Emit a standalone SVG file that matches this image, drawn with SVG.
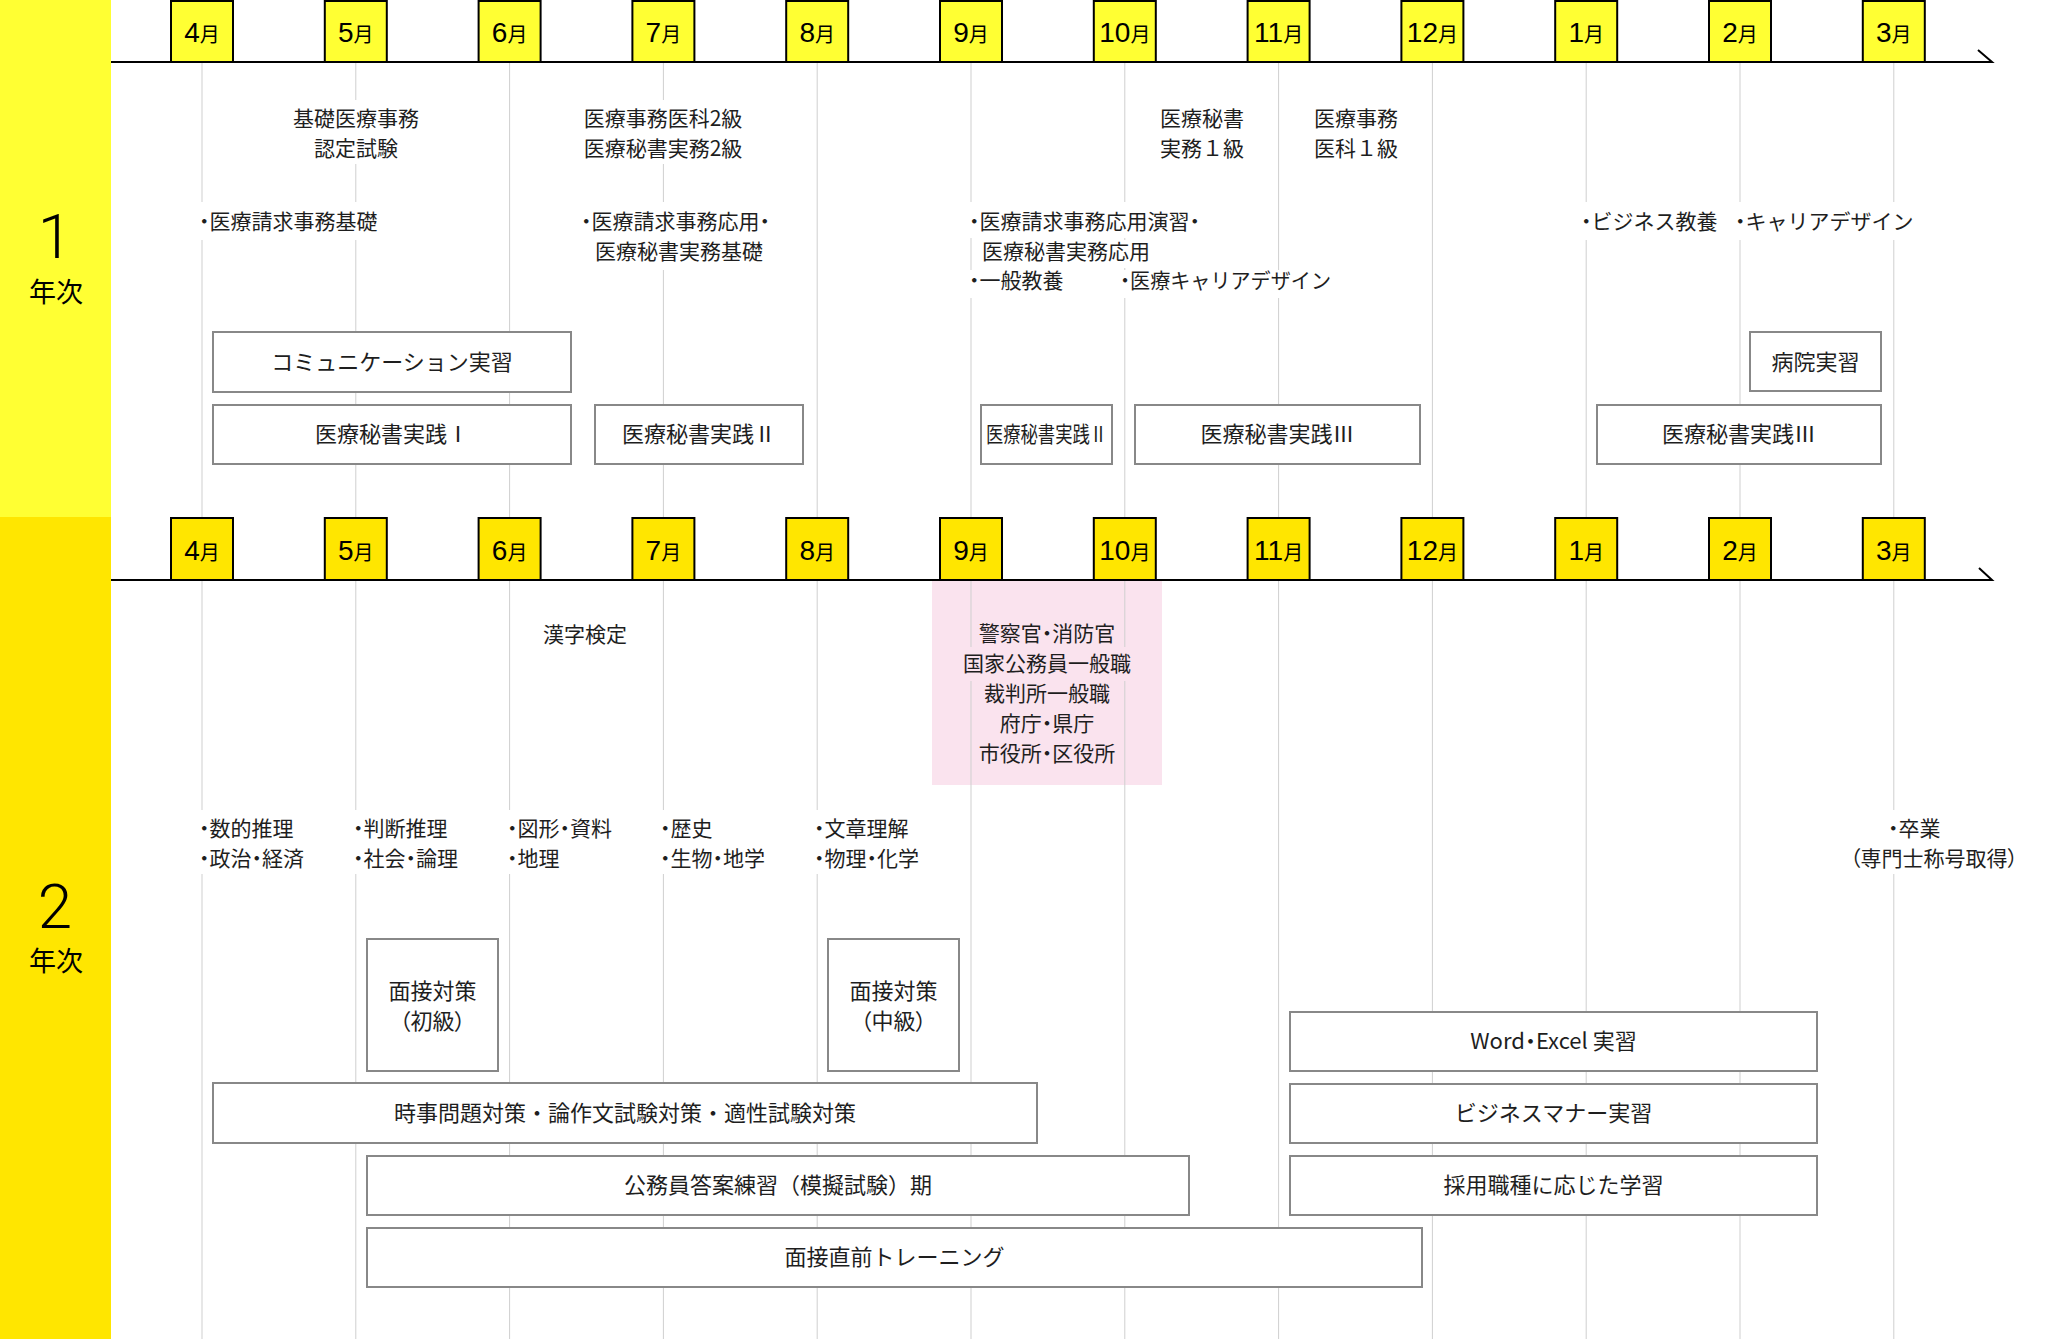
<svg xmlns="http://www.w3.org/2000/svg" width="2072" height="1339" viewBox="0 0 2072 1339">
<style>
.t{font-family:"Noto Sans CJK JP","Noto Sans CJK SC",sans-serif;font-size:21px;fill:#1e1e1e}
.b{font-size:22px}
.c{text-anchor:middle}
.d{font-feature-settings:"palt"}
.bg{fill:#fff}
.box{fill:#fff;stroke:#888;stroke-width:2}
.mb1{fill:#FFFF33;stroke:#000;stroke-width:2}
.mb2{fill:#FFE600;stroke:#000;stroke-width:2}
.grid{stroke:#cfcfcf;stroke-width:1}
.axis{stroke:#000;stroke-width:2;fill:none}
.m{font-family:"Liberation Sans",Arial,sans-serif;font-size:28px;text-anchor:middle;fill:#000}
.mj{font-family:"Noto Sans CJK JP",sans-serif;font-size:20px}
.yr{font-family:Roboto,"Liberation Sans",sans-serif;font-weight:300;font-size:62px;text-anchor:middle;fill:#000}
.yj{font-family:"Noto Sans CJK JP",sans-serif;font-size:27px;text-anchor:middle;fill:#000}
</style>
<rect x="0" y="0" width="2072" height="1339" fill="#fff"/>
<rect x="0" y="0" width="111" height="517" fill="#FFFF33"/>
<rect x="0" y="517" width="111" height="822" fill="#FFE600"/>
<rect x="932" y="580" width="230" height="205" fill="#FAE3EE"/>

<g id="timeline">
<g class="grid">
<line x1="202" y1="62" x2="202" y2="1339"/>
<line x1="355.8" y1="62" x2="355.8" y2="1339"/>
<line x1="509.6" y1="62" x2="509.6" y2="1339"/>
<line x1="663.4" y1="62" x2="663.4" y2="1339"/>
<line x1="817.2" y1="62" x2="817.2" y2="1339"/>
<line x1="971" y1="62" x2="971" y2="1339"/>
<line x1="1124.8" y1="62" x2="1124.8" y2="1339"/>
<line x1="1278.6" y1="62" x2="1278.6" y2="1339"/>
<line x1="1432.4" y1="62" x2="1432.4" y2="1339"/>
<line x1="1586.2" y1="62" x2="1586.2" y2="1339"/>
<line x1="1740" y1="62" x2="1740" y2="1339"/>
<line x1="1893.8" y1="62" x2="1893.8" y2="1339"/>
</g>
<polyline class="axis" points="111,62 1992,62 1978,50"/>
<polyline class="axis" points="111,580 1992,580 1979,568"/>
</g>

<g id="year1-label"><text class="yr" x="55" y="258">1</text><text class="yj" x="56" y="302">年次</text></g>
<g id="year2-label"><text class="yr" x="55" y="928">2</text><text class="yj" x="56" y="971">年次</text></g>

<g id="months1">
<rect class="mb1" x="171" y="1" width="62" height="61"/><text class="m" x="202" y="42">4<tspan class="mj">月</tspan></text>
<rect class="mb1" x="324.8" y="1" width="62" height="61"/><text class="m" x="355.8" y="42">5<tspan class="mj">月</tspan></text>
<rect class="mb1" x="478.6" y="1" width="62" height="61"/><text class="m" x="509.6" y="42">6<tspan class="mj">月</tspan></text>
<rect class="mb1" x="632.4" y="1" width="62" height="61"/><text class="m" x="663.4" y="42">7<tspan class="mj">月</tspan></text>
<rect class="mb1" x="786.2" y="1" width="62" height="61"/><text class="m" x="817.2" y="42">8<tspan class="mj">月</tspan></text>
<rect class="mb1" x="940" y="1" width="62" height="61"/><text class="m" x="971" y="42">9<tspan class="mj">月</tspan></text>
<rect class="mb1" x="1093.8" y="1" width="62" height="61"/><text class="m" x="1124.8" y="42">10<tspan class="mj">月</tspan></text>
<rect class="mb1" x="1247.6" y="1" width="62" height="61"/><text class="m" x="1278.6" y="42">11<tspan class="mj">月</tspan></text>
<rect class="mb1" x="1401.4" y="1" width="62" height="61"/><text class="m" x="1432.4" y="42">12<tspan class="mj">月</tspan></text>
<rect class="mb1" x="1555.2" y="1" width="62" height="61"/><text class="m" x="1586.2" y="42">1<tspan class="mj">月</tspan></text>
<rect class="mb1" x="1709" y="1" width="62" height="61"/><text class="m" x="1740" y="42">2<tspan class="mj">月</tspan></text>
<rect class="mb1" x="1862.8" y="1" width="62" height="61"/><text class="m" x="1893.8" y="42">3<tspan class="mj">月</tspan></text>
</g>

<g id="months2">
<rect class="mb2" x="171" y="518" width="62" height="62"/><text class="m" x="202" y="560">4<tspan class="mj">月</tspan></text>
<rect class="mb2" x="324.8" y="518" width="62" height="62"/><text class="m" x="355.8" y="560">5<tspan class="mj">月</tspan></text>
<rect class="mb2" x="478.6" y="518" width="62" height="62"/><text class="m" x="509.6" y="560">6<tspan class="mj">月</tspan></text>
<rect class="mb2" x="632.4" y="518" width="62" height="62"/><text class="m" x="663.4" y="560">7<tspan class="mj">月</tspan></text>
<rect class="mb2" x="786.2" y="518" width="62" height="62"/><text class="m" x="817.2" y="560">8<tspan class="mj">月</tspan></text>
<rect class="mb2" x="940" y="518" width="62" height="62"/><text class="m" x="971" y="560">9<tspan class="mj">月</tspan></text>
<rect class="mb2" x="1093.8" y="518" width="62" height="62"/><text class="m" x="1124.8" y="560">10<tspan class="mj">月</tspan></text>
<rect class="mb2" x="1247.6" y="518" width="62" height="62"/><text class="m" x="1278.6" y="560">11<tspan class="mj">月</tspan></text>
<rect class="mb2" x="1401.4" y="518" width="62" height="62"/><text class="m" x="1432.4" y="560">12<tspan class="mj">月</tspan></text>
<rect class="mb2" x="1555.2" y="518" width="62" height="62"/><text class="m" x="1586.2" y="560">1<tspan class="mj">月</tspan></text>
<rect class="mb2" x="1709" y="518" width="62" height="62"/><text class="m" x="1740" y="560">2<tspan class="mj">月</tspan></text>
<rect class="mb2" x="1862.8" y="518" width="62" height="62"/><text class="m" x="1893.8" y="560">3<tspan class="mj">月</tspan></text>
</g>

<!-- Year 1 exams -->
<g id="exam-kiso"><rect class="bg" x="290" y="100" width="132" height="64"/><text class="t c" x="356" y="125.5">基礎医療事務</text><text class="t c" x="356" y="155.5">認定試験</text></g>
<g id="exam-ika2"><rect class="bg" x="578" y="100" width="170" height="64"/><text class="t c" x="663" y="125.5">医療事務医科2級</text><text class="t c" x="663" y="155.5">医療秘書実務2級</text></g>
<g id="exam-hisho1"><text class="t c" x="1202" y="125.5">医療秘書</text><text class="t c" x="1202" y="155.5">実務１級</text></g>
<g id="exam-ika1"><text class="t c" x="1356" y="125.5">医療事務</text><text class="t c" x="1356" y="155.5">医科１級</text></g>

<!-- Year 1 subjects -->
<g id="subj-seikyu-kiso"><rect class="bg" x="197" y="202" width="188" height="38"/><text class="t" x="199" y="229"><tspan class="d">・</tspan>医療請求事務基礎</text></g>
<g id="subj-seikyu-oyo"><rect class="bg" x="579" y="202" width="202" height="68"/><text class="t" x="581" y="229"><tspan class="d">・</tspan>医療請求事務応用<tspan class="d">・</tspan></text><text class="t" x="595" y="258.5">医療秘書実務基礎</text></g>
<g id="subj-seikyu-enshu"><rect class="bg" x="967" y="202" width="242" height="36"/><text class="t" x="969" y="229"><tspan class="d">・</tspan>医療請求事務応用演習<tspan class="d">・</tspan></text><rect class="bg" x="980" y="240" width="176" height="28"/><text class="t" x="982" y="258.5">医療秘書実務応用</text></g>
<g id="subj-ippan"><rect class="bg" x="967" y="270" width="102" height="28"/><text class="t" x="969" y="288"><tspan class="d">・</tspan>一般教養</text></g>
<g id="subj-career-iryo"><rect class="bg" x="1118" y="270" width="216" height="28"/><text class="t" x="1120" y="288" textLength="211" lengthAdjust="spacingAndGlyphs"><tspan class="d">・</tspan>医療キャリアデザイン</text></g>
<g id="subj-business"><rect class="bg" x="1579" y="202" width="142" height="38"/><text class="t" x="1581" y="229"><tspan class="d">・</tspan>ビジネス教養</text></g>
<g id="subj-career"><rect class="bg" x="1733" y="202" width="176" height="38"/><text class="t" x="1735" y="229"><tspan class="d">・</tspan>キャリアデザイン</text></g>

<!-- Year 1 boxes -->
<g id="box-comm"><rect class="box" x="213" y="332" width="358" height="60"/><text class="t b c" x="392" y="369.5">コミュニケーション実習</text></g>
<g id="box-jissen1"><rect class="box" x="213" y="405" width="358" height="59"/><text class="t b c" x="392" y="442">医療秘書実践Ⅰ</text></g>
<g id="box-jissen2a"><rect class="box" x="595" y="405" width="208" height="59"/><text class="t b c" x="699" y="442">医療秘書実践Ⅱ</text></g>
<g id="box-jissen2b"><rect class="box" x="981" y="405" width="131" height="59"/><text class="t b c" x="1046.5" y="442" textLength="121" lengthAdjust="spacingAndGlyphs">医療秘書実践Ⅱ</text></g>
<g id="box-jissen3a"><rect class="box" x="1135" y="405" width="285" height="59"/><text class="t b c" x="1277.5" y="442">医療秘書実践Ⅲ</text></g>
<g id="box-byoin"><rect class="box" x="1750" y="332" width="131" height="59"/><text class="t b c" x="1815.5" y="369.5">病院実習</text></g>
<g id="box-jissen3b"><rect class="box" x="1597" y="405" width="284" height="59"/><text class="t b c" x="1739" y="442">医療秘書実践Ⅲ</text></g>

<!-- Year 2 -->
<g id="exam-kanji"><text class="t c" x="585" y="641.5">漢字検定</text></g>
<g id="exam-komuin"><rect x="966" y="647" width="162" height="34" fill="#FAE3EE"/>
<text class="t c" x="1047" y="641">警察官<tspan class="d">・</tspan>消防官</text>
<text class="t c" x="1047" y="671">国家公務員一般職</text>
<text class="t c" x="1047" y="701">裁判所一般職</text>
<text class="t c" x="1047" y="731">府庁<tspan class="d">・</tspan>県庁</text>
<text class="t c" x="1047" y="761">市役所<tspan class="d">・</tspan>区役所</text></g>

<g id="subj2-apr"><rect class="bg" x="197" y="810" width="120" height="64"/><text class="t" x="199" y="835.5"><tspan class="d">・</tspan>数的推理</text><text class="t" x="199" y="865.5"><tspan class="d">・</tspan>政治<tspan class="d">・</tspan>経済</text></g>
<g id="subj2-may"><rect class="bg" x="351" y="810" width="120" height="64"/><text class="t" x="353" y="835.5"><tspan class="d">・</tspan>判断推理</text><text class="t" x="353" y="865.5"><tspan class="d">・</tspan>社会<tspan class="d">・</tspan>論理</text></g>
<g id="subj2-jun"><rect class="bg" x="505" y="810" width="120" height="64"/><text class="t" x="507" y="835.5"><tspan class="d">・</tspan>図形<tspan class="d">・</tspan>資料</text><text class="t" x="507" y="865.5"><tspan class="d">・</tspan>地理</text></g>
<g id="subj2-jul"><rect class="bg" x="658" y="810" width="120" height="64"/><text class="t" x="660" y="835.5"><tspan class="d">・</tspan>歴史</text><text class="t" x="660" y="865.5"><tspan class="d">・</tspan>生物<tspan class="d">・</tspan>地学</text></g>
<g id="subj2-aug"><rect class="bg" x="812" y="810" width="120" height="64"/><text class="t" x="814" y="835.5"><tspan class="d">・</tspan>文章理解</text><text class="t" x="814" y="865.5"><tspan class="d">・</tspan>物理<tspan class="d">・</tspan>化学</text></g>
<g id="grad"><rect class="bg" x="1848" y="810" width="172" height="64"/><text class="t" x="1888" y="835.5"><tspan class="d">・</tspan>卒業</text><text class="t c d" x="1934" y="865.5">（専門士称号取得）</text></g>

<g id="box-mensetsu1"><rect class="box" x="367" y="939" width="131" height="132"/><text class="t b c" x="432.5" y="998.5">面接対策</text><text class="t b c d" x="432.5" y="1028.5">（初級）</text></g>
<g id="box-mensetsu2"><rect class="box" x="828" y="939" width="131" height="132"/><text class="t b c" x="893.5" y="998.5">面接対策</text><text class="t b c d" x="893.5" y="1028.5">（中級）</text></g>
<g id="box-jiji"><rect class="box" x="213" y="1083" width="824" height="60"/><text class="t b c" x="625" y="1121">時事問題対策・論作文試験対策・適性試験対策</text></g>
<g id="box-toan"><rect class="box" x="367" y="1156" width="822" height="59"/><text class="t b c" x="778" y="1193">公務員答案練習（模擬試験）期</text></g>
<g id="box-chokuzen"><rect class="box" x="367" y="1228" width="1055" height="59"/><text class="t b c" x="894.5" y="1265">面接直前トレーニング</text></g>
<g id="box-word"><rect class="box" x="1290" y="1012" width="527" height="59"/><text class="t b c" x="1553.5" y="1049">Word<tspan class="d">・</tspan>Excel 実習</text></g>
<g id="box-manner"><rect class="box" x="1290" y="1084" width="527" height="59"/><text class="t b c" x="1553.5" y="1121">ビジネスマナー実習</text></g>
<g id="box-saiyo"><rect class="box" x="1290" y="1156" width="527" height="59"/><text class="t b c" x="1553.5" y="1193">採用職種に応じた学習</text></g>
</svg>
